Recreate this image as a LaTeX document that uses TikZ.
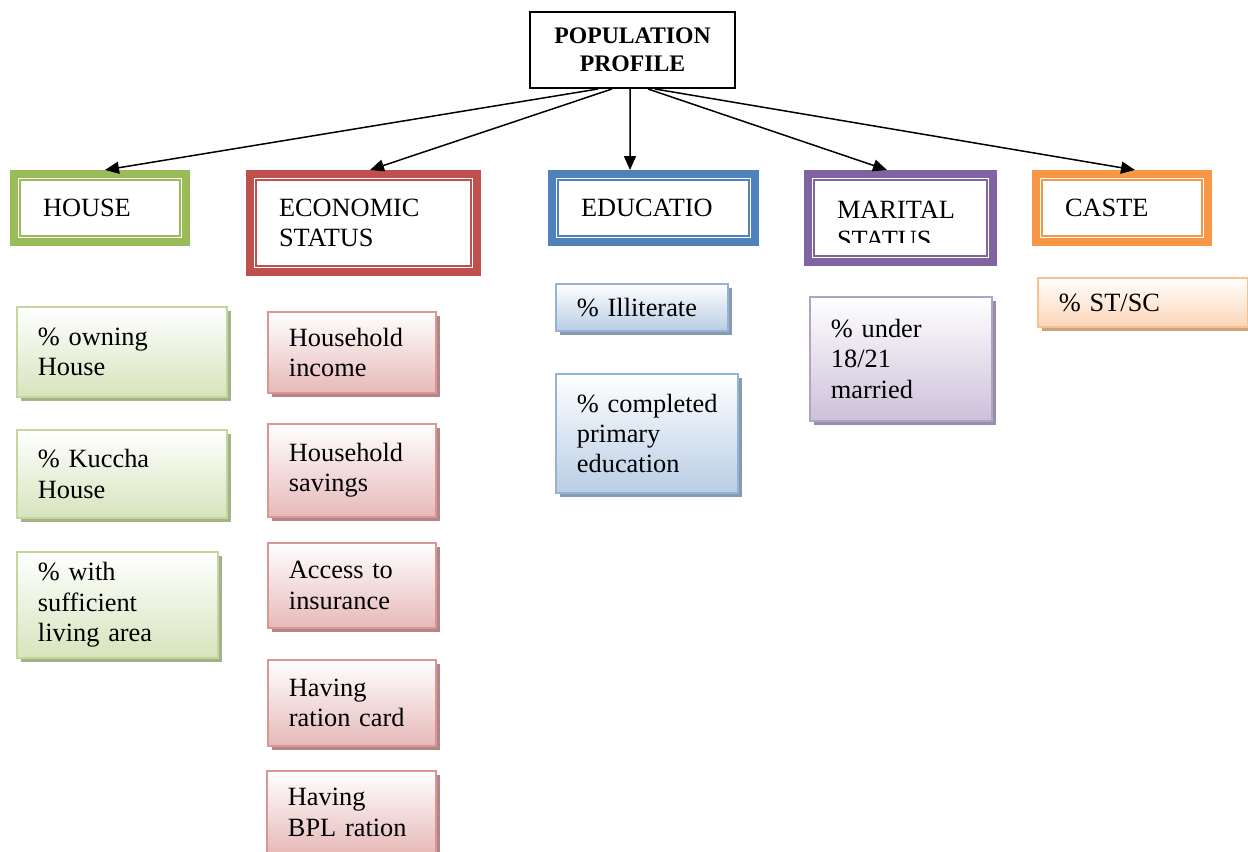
\documentclass[tikz,border=0pt]{standalone}
\usepackage{fontspec}
\setmainfont{Liberation Serif}
\usepackage{tikz}
\usetikzlibrary{arrows.meta, shadows}

\definecolor{houseg}{HTML}{9BBB59}
\definecolor{econr}{HTML}{C0504D}
\definecolor{educb}{HTML}{4F81BD}
\definecolor{maritp}{HTML}{8064A2}
\definecolor{casteo}{HTML}{F79646}

\tikzset{
	every node/.style={font=\fontsize{15}{17.3}\selectfont, inner sep=0pt},
	titlebox/.style={draw, line width=0.04cm, align=center, font=\fontsize{13.5}{16}\selectfont\bfseries},
	catbox/.style={draw=#1, line width=0.16cm, fill=white, anchor=north west, align=left},
	catsize/.style 2 args={minimum width=#1*0.02cm, minimum height=#2*0.02cm, text width=(#1-58)*0.02cm},
	catframe/.style={draw=#1, line width=1.2pt},
	itembox/.style={draw=#1!60!white, line width=1.1pt, top color=white, bottom color=#1!40!white,
		drop shadow={shadow xshift=0.08cm, shadow yshift=-0.08cm, fill=#1!50!gray!80!white, opacity=1},
		anchor=north west, align=left},
	itemsize/.style 2 args={minimum width=#1*0.02cm, minimum height=#2*0.02cm, text width=(#1-42)*0.02cm},
	link/.style={line width=0.85pt, -{Triangle[length=0.28cm, width=0.24cm]}}
}

\begin{document}
\begin{tikzpicture}[x=0.02cm, y=-0.02cm]

		\useasboundingbox (0,0) rectangle (1248,852);
		\clip (0,0) rectangle (1248,852);

		\node[titlebox, minimum width=4.1cm, minimum height=1.52cm] (title) at (632.5,50) {POPULATION\\PROFILE};

		\node[catbox=houseg, catsize={172}{68}] (house) at (10,170) {HOUSE};
		\node[catbox=econr, catsize={227}{98}] (econ) at (246,170) {ECONOMIC\\STATUS};
		\node[catbox=educb, catsize={203}{68}] (educ) at (548,170) {EDUCATIO};
		\node[catbox=maritp, catsize={185}{88}, text height=0.63cm] (marital) at (804,170) {MARITAL\\STATUS};
		\node[catbox=casteo, catsize={172}{68}] (caste) at (1032,170) {CASTE};

		\fill[white] ([shift={(11,-23)}]marital.south west) rectangle ([shift={(-11,-11)}]marital.south east);
		\foreach \n/\c in {house/houseg, econ/econr, educ/educb, marital/maritp, caste/casteo}
			\draw[catframe=\c] ([shift={(10,10)}]\n.north west) rectangle ([shift={(-10,-10)}]\n.south east);

		\draw[link] ([shift={(-34.5,0)}]title.south) -- ([shift={(5,0)}]house.north);
		\draw[link] ([shift={(-20.5,0)}]title.south) -- ([shift={(6.5,0)}]econ.north);
		\draw[link] ([shift={(-2.5,0)}]title.south) -- ([shift={(-23.5,0)}]educ.north);
		\draw[link] ([shift={(15.5,0)}]title.south) -- ([shift={(-13.5,0)}]marital.north);
		\draw[link] ([shift={(22.5,0)}]title.south) -- ([shift={(13,0)}]caste.north);

		\node[itembox=houseg, itemsize={210}{90}] (own) at (16,306) {\% owning\\House};
		\node[itembox=houseg, itemsize={210}{88}] (kuccha) at (16,429) {\% Kuccha\\House};
		\node[itembox=houseg, itemsize={201}{106}] (area) at (16,551) {\% with\\sufficient\\living area};

		\node[itembox=econr, itemsize={168}{81}] (income) at (267,311) {Household\\income};
		\node[itembox=econr, itemsize={168}{93}] (savings) at (267,423) {Household\\savings};
		\node[itembox=econr, itemsize={168}{85}] (insurance) at (267,542) {Access to\\insurance};
		\node[itembox=econr, itemsize={168}{86}] (ration) at (267,659) {Having\\ration card};
		\node[itembox=econr, itemsize={169}{83}] (bpl) at (266,770) {Having\\BPL ration};

		\node[itembox=educb, itemsize={172}{47}] (illiterate) at (555,283) {\% Illiterate};
		\node[itembox=educb, itemsize={182}{119}] (primary) at (555,373) {\mbox{\% completed}\\primary\\education};

		\node[itembox=maritp, itemsize={182}{124}] (underage) at (809,296) {\% under\\18/21\\married};

		\node[itembox=casteo, itemsize={210}{49}] (stsc) at (1037,277) {\% ST/SC};

	\end{tikzpicture}
\end{document}
